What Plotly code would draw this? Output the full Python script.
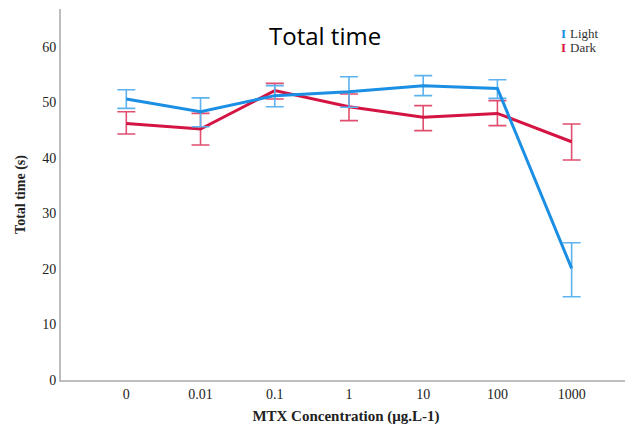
import plotly.graph_objects as go

categories = ["0", "0.01", "0.1", "1", "10", "100", "1000"]
light_mean = [50.6, 48.3, 51.2, 51.9, 53.0, 52.5, 20.1]
light_upper = [52.25, 50.8, 53.0, 54.6, 54.8, 54.05, 24.7]
light_lower = [48.9, 45.6, 49.2, 49.1, 51.2, 50.7, 15.0]
dark_mean = [46.2, 45.2, 52.1, 49.2, 47.3, 48.0, 42.9]
dark_upper = [48.3, 48.0, 53.4, 51.5, 49.4, 50.3, 46.1]
dark_lower = [44.3, 42.3, 50.6, 46.7, 44.9, 45.8, 39.6]
y_ticks = [0, 10, 20, 30, 40, 50, 60]

LIGHT_LINE = "#1B8FE3"
LIGHT_ERR = "#5DB3F0"
DARK_LINE = "#D41442"
DARK_ERR = "#E04F70"

def trace(name, mean, up, lo, lc, ec):
    return go.Scatter(
        x=categories, y=mean, name=name, mode="lines",
        line=dict(color=lc, width=3),
        error_y=dict(type="data", symmetric=False,
                     array=[u - m for u, m in zip(up, mean)],
                     arrayminus=[m - l for m, l in zip(mean, lo)],
                     color=ec, thickness=1.6, width=9),
        showlegend=False,
    )

fig = go.Figure()
fig.add_trace(trace("Dark", dark_mean, dark_upper, dark_lower, DARK_LINE, DARK_ERR))
fig.add_trace(trace("Light", light_mean, light_upper, light_lower, LIGHT_LINE, LIGHT_ERR))

serif = "Liberation Serif, DejaVu Serif, serif"

# page body has an 8px margin; plot area spans screen x 61..631, y 9..380
W, H = 625, 418
L, R, T, B = 53, 2, 1, 46
pw, ph = W - L - R, H - T - B

def px(x):
    return (x - 8 - L) / pw

def py(y):
    return (H - B - (y - 8)) / ph

fig.update_layout(
    width=W, height=H,
    margin=dict(l=L, r=R, t=T, b=B),
    paper_bgcolor="white", plot_bgcolor="white",
    xaxis=dict(type="category", range=[-0.88, 6.8], showgrid=False, zeroline=False,
               showline=True, linecolor="#BDBDBD", linewidth=2, ticks="",
               tickfont=dict(family=serif, size=14, color="#222"),
               title=dict(text="<b>MTX Concentration (μg.L-1)</b>",
                          font=dict(family=serif, size=15, color="#222"), standoff=10)),
    yaxis=dict(range=[0, 66.8], tickvals=y_ticks, showgrid=False, zeroline=False,
               showline=True, linecolor="#BDBDBD", linewidth=2, ticks="",
               tickfont=dict(family=serif, size=14, color="#222"),
               title=dict(text="<b>Total time (s)</b>",
                          font=dict(family=serif, size=14, color="#222"), standoff=13)),
    font=dict(family=serif),
)

fig.add_annotation(text="Total time", xref="paper", yref="paper", x=px(325), y=py(35),
                   showarrow=False, font=dict(family="Open Sans, Noto Sans, sans-serif", size=24, color="black"),
                   xanchor="center", yanchor="middle")

# asterisk above Light 1000 error bar
fig.add_annotation(text="*", x=categories[-1], y=light_upper[-1], xshift=6, yshift=3,
                   showarrow=False, font=dict(family=serif, size=16, color="black"),
                   xanchor="center", yanchor="bottom")

# legend as annotations
for i, (name, col) in enumerate([("Light", LIGHT_LINE), ("Dark", DARK_LINE)]):
    yy = 34 + i * 13
    fig.add_annotation(text="<b>I</b>", xref="paper", yref="paper", x=px(563), y=py(yy),
                       showarrow=False, font=dict(family=serif, size=13, color=col),
                       xanchor="center", yanchor="middle")
    fig.add_annotation(text=name, xref="paper", yref="paper", x=px(568), y=py(yy),
                       showarrow=False, font=dict(family=serif, size=13, color="#333"),
                       xanchor="left", yanchor="middle")

fig.write_html("out.html")
